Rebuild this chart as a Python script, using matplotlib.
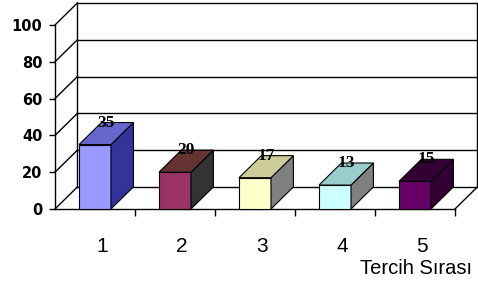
import matplotlib
matplotlib.use("Agg")
import matplotlib.pyplot as plt
from matplotlib.patches import Polygon
from matplotlib.transforms import ScaledTranslation

# data
cats = [1, 2, 3, 4, 5]
cat_labels = ["1", "2", "3", "4", "5"]
values = [35, 20, 17, 13, 15]
yticks = [0, 20, 40, 60, 80, 100]
xlabel = "Tercih Sırası"

front = ["#9999ff", "#993366", "#ffffcc", "#ccffff", "#660066"]
top = ["#6666cc", "#663333", "#cccc99", "#99cccc", "#330033"]
side = ["#333399", "#333333", "#808080", "#808080", "#330033"]

# 3d look: depth offset in data units
dx, dy = 0.28, 12
w = 0.4

fig = plt.figure(figsize=(4.78, 2.91), dpi=100)
ax = fig.add_axes([55/478, (291-209)/291, 400/478, 184/291])
ax.set_xlim(0.5, 5.5)
ax.set_ylim(0, 100)
for s in ["top", "right"]:
    ax.spines[s].set_visible(False)
ax.spines["left"].set_linewidth(1.0)
ax.spines["bottom"].set_linewidth(1.0)

lw = 1.0
x0, x1 = 0.5, 5.5
# back wall gridlines and diagonals of the side wall
for v in yticks:
    ax.plot([x0 + dx, x1 + dx], [v + dy, v + dy], color="black", lw=lw, clip_on=False, zorder=1)
    ax.plot([x0, x0 + dx], [v, v + dy], color="black", lw=lw, clip_on=False, zorder=1)
ax.plot([x0 + dx, x0 + dx], [dy, 100 + dy], color="black", lw=lw, clip_on=False, zorder=1)
ax.plot([x1 + dx, x1 + dx], [dy, 100 + dy], color="black", lw=lw, clip_on=False, zorder=1)
ax.plot([x1, x1 + dx], [0, dy], color="black", lw=lw, clip_on=False, zorder=1)

# bars
for c, v, fc, tc, sc in zip(cats, values, front, top, side):
    l, r = c - w/2, c + w/2
    ax.add_patch(Polygon([(l, 0), (r, 0), (r, v), (l, v)], closed=True,
                         fc=fc, ec="black", lw=0.8, clip_on=False, zorder=3))
    ax.add_patch(Polygon([(r, 0), (r + dx, dy), (r + dx, v + dy), (r, v)], closed=True,
                         fc=sc, ec="black", lw=0.8, clip_on=False, zorder=3))
    ax.add_patch(Polygon([(l, v), (r, v), (r + dx, v + dy), (l + dx, v + dy)], closed=True,
                         fc=tc, ec="black", lw=0.8, clip_on=False, zorder=3))
    ax.text(c + dx/2, v + dy, str(v), ha="center", va="center", fontsize=12.5,
            fontweight="bold", family="Liberation Serif", zorder=4)

ax.set_yticks(yticks)
ax.set_yticklabels([str(t) for t in yticks], fontweight="bold", fontsize=10.5)
ax.tick_params(axis="y", length=4, width=1.0, pad=5, direction="out")

ax.set_xticks(cats)
ax.set_xticklabels(cat_labels, fontsize=15, family="Liberation Sans")
ax.set_xticks([1.5, 2.5, 3.5, 4.5, 5.5], minor=True)
ax.tick_params(axis="x", which="major", length=0, pad=20)
ax.tick_params(axis="x", which="minor", length=5, width=1.0, direction="out")
for lab in ax.get_xticklabels():
    lab.set_transform(lab.get_transform() + ScaledTranslation(0.07, 0, fig.dpi_scale_trans))

fig.text(472/478, (291-269)/291, xlabel, ha="right", va="center", fontsize=14.5,
         family="Liberation Sans")

fig.savefig("out.png", dpi=100)
